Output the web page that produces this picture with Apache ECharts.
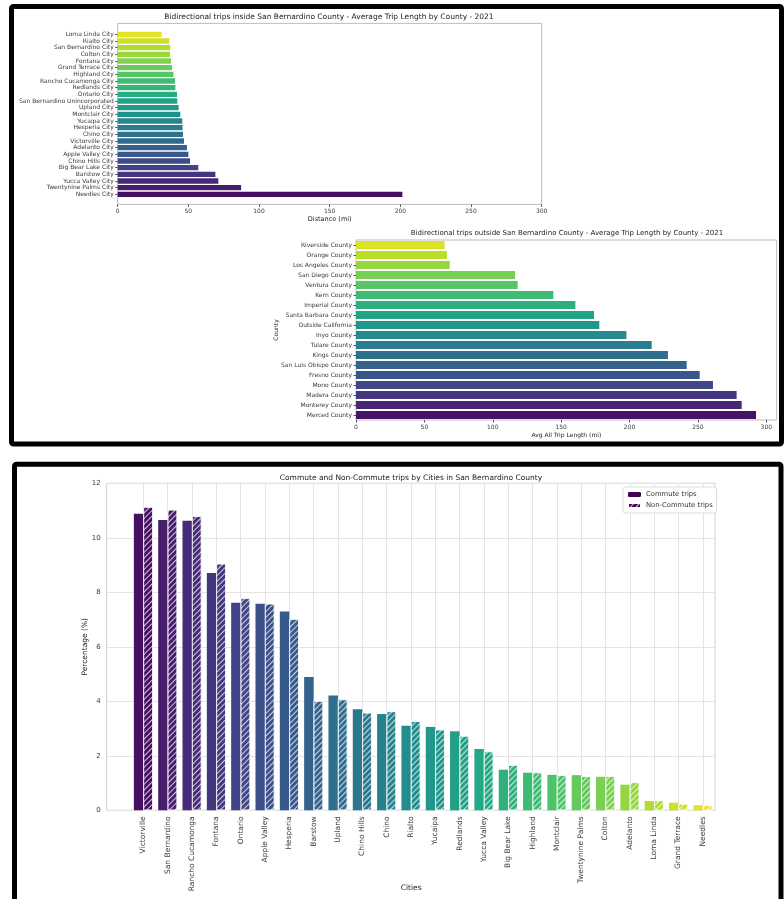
<!DOCTYPE html>
<html>
<head>
<meta charset="utf-8">
<script src="https://cdn.jsdelivr.net/npm/echarts@6/dist/echarts.min.js"></script>
<style>
  html, body { margin: 0; padding: 0; background: #fff; }
  #main { width: 784px; height: 899px; }
</style>
</head>
<body>
<div id="main"></div>
<script>
// 城市内部往返出行 - 平均出行距离 (mi)
var insideCities = ["Loma Linda City", "Rialto City", "San Bernardino City", "Colton City", "Fontana City",
  "Grand Terrace City", "Highland City", "Rancho Cucamonga City", "Redlands City", "Ontario City",
  "San Bernardino Unincorporated", "Upland City", "Montclair City", "Yucaipa City", "Hesperia City",
  "Chino City", "Victorville City", "Adelanto City", "Apple Valley City", "Chino Hills City",
  "Big Bear Lake City", "Barstow City", "Yucca Valley City", "Twentynine Palms City", "Needles City"];
var insideDistance = [31.1, 36.5, 37.2, 37.0, 37.7, 38.4, 39.4, 40.6, 40.8, 42.0, 42.2, 43.1, 44.3,
  45.7, 45.9, 46.2, 46.9, 49.0, 50.0, 51.2, 57.0, 69.1, 71.2, 87.3, 201.4];

// 县外往返出行 - 平均出行距离
var outsideCounties = ["Riverside County", "Orange County", "Los Angeles County", "San Diego County",
  "Ventura County", "Kern County", "Imperial County", "Santa Barbara County", "Outside California",
  "Inyo County", "Tulare County", "Kings County", "San Luis Obispo County", "Fresno County",
  "Mono County", "Madera County", "Monterey County", "Merced County"];
var outsideDistance = [64.8, 66.5, 68.5, 116.3, 118.2, 144.3, 160.4, 174.0, 177.9, 197.7, 216.2,
  228.1, 241.8, 251.3, 261.0, 278.3, 282.0, 292.5];

// 通勤 / 非通勤出行占比 (%)
var tripCities = ["Victorville", "San Bernardino", "Rancho Cucamonga", "Fontana", "Ontario",
  "Apple Valley", "Hesperia", "Barstow", "Upland", "Chino Hills", "Chino", "Rialto", "Yucaipa",
  "Redlands", "Yucca Valley", "Big Bear Lake", "Highland", "Montclair", "Twentynine Palms",
  "Colton", "Adelanto", "Loma Linda", "Grand Terrace", "Needles"];
var commutePct = [10.88, 10.65, 10.63, 8.71, 7.62, 7.58, 7.30, 4.89, 4.21, 3.71, 3.53, 3.10, 3.06,
  2.90, 2.25, 1.49, 1.38, 1.30, 1.29, 1.23, 0.94, 0.34, 0.28, 0.19];
var nonCommutePct = [11.13, 11.03, 10.79, 9.05, 7.78, 7.58, 7.02, 4.01, 4.07, 3.58, 3.63, 3.27, 2.96,
  2.73, 2.16, 1.66, 1.39, 1.29, 1.25, 1.25, 1.03, 0.36, 0.24, 0.19];

var tickDistance = [0, 50, 100, 150, 200, 250, 300];
var tickPct = [0, 2, 4, 6, 8, 10, 12];

// viridis 色带
var viridisStops = ["#440154", "#482475", "#414487", "#355f8d", "#2a788e", "#21918c",
  "#22a884", "#44bf70", "#7ad151", "#bddf26", "#fde725"];
function viridis(t) {
  var p = Math.max(0, Math.min(1, t)) * 10;
  var i = Math.min(9, Math.floor(p));
  var f = p - i;
  var a = viridisStops[i], b = viridisStops[i + 1];
  var out = "#";
  for (var k = 1; k < 7; k += 2) {
    var va = parseInt(a.substr(k, 2), 16), vb = parseInt(b.substr(k, 2), 16);
    var v = Math.round(va + (vb - va) * f);
    out += (v < 16 ? "0" : "") + v.toString(16);
  }
  return out;
}

var font = "DejaVu Sans";
var labelColor = "#3a3a3a";

var insideData = insideDistance.map(function (v, i) {
  return { value: v, itemStyle: { color: viridis(1 - (i + 1) / (insideDistance.length + 1)) } };
});
var outsideData = outsideDistance.map(function (v, i) {
  return { value: v, itemStyle: { color: viridis(1 - (i + 1) / (outsideDistance.length + 1)) } };
});
var commuteData = commutePct.map(function (v, i) {
  return { value: v, itemStyle: { color: viridis((i + 1) / (commutePct.length + 1)) } };
});
var nonCommuteData = nonCommutePct.map(function (v, i) {
  return { value: v, itemStyle: { color: viridis((i + 1) / (nonCommutePct.length + 1)) } };
});

var myChart = echarts.init(document.getElementById("main"));

var option = {
  backgroundColor: "#fff",
  animation: false,
  textStyle: { fontFamily: font },
  title: [{
    text: "Bidirectional trips inside San Bernardino County - Average Trip Length by County - 2021",
    left: 329, top: 13, textAlign: "center", padding: 0,
    textStyle: { fontSize: 7.5, fontWeight: "normal", color: "#222", fontFamily: font }
  }, {
    text: "Bidirectional trips outside San Bernardino County - Average Trip Length by County - 2021",
    left: 567, top: 230, textAlign: "center", padding: 0,
    textStyle: { fontSize: 7, fontWeight: "normal", color: "#222", fontFamily: font }
  }, {
    text: "Commute and Non-Commute trips by Cities in San Bernardino County",
    left: 411, top: 474, textAlign: "center", padding: 0,
    textStyle: { fontSize: 7.5, fontWeight: "normal", color: "#222", fontFamily: font }
  }],
  legend: {
    data: ["Commute trips", "Non-Commute trips"],
    orient: "vertical",
    left: 623, top: 487,
    itemWidth: 13, itemHeight: 5, itemGap: 4,
    padding: [4, 4, 4, 4],
    backgroundColor: "#fff",
    borderColor: "#ddd", borderWidth: 1, borderRadius: 2,
    textStyle: { fontSize: 6.8, color: "#333", fontFamily: font }
  },
  grid: [
    // 图1 外框 / 柱子区
    { left: 117.7, top: 23.4, width: 424, height: 181, show: true, borderColor: "#bdbdbd", borderWidth: 1, outerBoundsMode: "none" },
    { left: 117.7, top: 31, width: 424, height: 166.7, outerBoundsMode: "none" },
    // 图2
    { left: 356, top: 240, width: 420.7, height: 180, show: true, borderColor: "#bdbdbd", borderWidth: 1, outerBoundsMode: "none" },
    // 图3 外框 / 柱子区 / 竖网格线
    { left: 106.7, top: 483.3, width: 608.3, height: 327, show: true, borderColor: "#d0d0d0", borderWidth: 1, outerBoundsMode: "none" },
    { left: 131.2, top: 483.3, width: 583.8, height: 327, outerBoundsMode: "none" },
    { left: 143.36, top: 483.3, width: 559.7, height: 327, outerBoundsMode: "none" }
  ],
  xAxis: [{
    gridIndex: 0, type: "value", min: tickDistance[0], max: tickDistance[tickDistance.length - 1],
    interval: tickDistance[1] - tickDistance[0],
    name: "Distance (mi)", nameLocation: "middle", nameGap: 11, nameMoveOverlap: false,
    nameTextStyle: { fontSize: 6.5, color: "#222" },
    axisLine: { show: false },
    axisTick: { show: true, length: 2.5, lineStyle: { color: "#555" } },
    axisLabel: { fontSize: 6, color: labelColor, margin: 4 },
    splitLine: { show: false }
  }, {
    gridIndex: 1, type: "value", min: 0, max: 300, show: false
  }, {
    gridIndex: 2, type: "value", min: 0, max: 307.6, interval: 50,
    name: "Avg All Trip Length (mi)", nameLocation: "middle", nameGap: 12, nameMoveOverlap: false,
    nameTextStyle: { fontSize: 6, color: "#222" },
    axisLine: { show: false },
    axisTick: { show: true, length: 2.5, lineStyle: { color: "#555" } },
    axisLabel: { fontSize: 6, color: labelColor, margin: 4, showMaxLabel: false },
    splitLine: { show: false }
  }, {
    gridIndex: 3, type: "value", min: 0, max: 1, show: false
  }, {
    gridIndex: 4, type: "category", data: tripCities,
    name: "Cities", nameLocation: "middle", nameGap: 74, nameMoveOverlap: false,
    nameTextStyle: { fontSize: 7.5, color: "#222", padding: [0, 24, 0, 0] },
    axisLine: { show: false },
    axisTick: { show: false },
    axisLabel: { rotate: 90, fontSize: 7.5, color: labelColor, margin: 6, interval: 0 },
    splitLine: { show: false }
  }, {
    // 每个城市中心的竖向网格线
    gridIndex: 5, type: "value", min: 0, max: tripCities.length - 1, interval: 1,
    axisLine: { show: false }, axisTick: { show: false }, axisLabel: { show: false },
    splitLine: { show: true, lineStyle: { color: "#e4e4e4", width: 1 } }
  }],
  yAxis: [{
    gridIndex: 0, type: "value", show: false
  }, {
    gridIndex: 1, type: "category", data: insideCities, inverse: true,
    axisLine: { show: false },
    axisTick: { show: true, alignWithLabel: true, length: 2.5, lineStyle: { color: "#555" } },
    axisLabel: { fontSize: 6, color: labelColor, margin: 4, interval: 0 }
  }, {
    gridIndex: 2, type: "category", data: outsideCounties, inverse: true,
    name: "County", nameLocation: "middle", nameGap: 77, nameRotate: 90, nameMoveOverlap: false,
    nameTextStyle: { fontSize: 6, color: "#222" },
    axisLine: { show: false },
    axisTick: { show: true, alignWithLabel: true, length: 2.5, lineStyle: { color: "#555" } },
    axisLabel: { fontSize: 6, color: labelColor, margin: 4, interval: 0 }
  }, {
    gridIndex: 3, type: "value", min: tickPct[0], max: tickPct[tickPct.length - 1],
    interval: tickPct[1] - tickPct[0],
    name: "Percentage (%)", nameLocation: "middle", nameGap: 18, nameMoveOverlap: false,
    nameTextStyle: { fontSize: 7.5, color: "#222" },
    axisLine: { show: false },
    axisTick: { show: false },
    axisLabel: { fontSize: 7, color: labelColor, margin: 6 },
    splitLine: { show: true, lineStyle: { color: "#e4e4e4", width: 1 } }
  }, {
    gridIndex: 4, type: "value", min: 0, max: 12, show: false
  }, {
    gridIndex: 5, type: "value", min: 0, max: 12, show: false
  }],
  series: [{
    name: "Inside", type: "bar", xAxisIndex: 1, yAxisIndex: 1,
    data: insideData, barWidth: "80%"
  }, {
    name: "Outside", type: "bar", xAxisIndex: 2, yAxisIndex: 2,
    data: outsideData, barWidth: "80%"
  }, {
    name: "Commute trips", type: "bar", xAxisIndex: 4, yAxisIndex: 4,
    data: commuteData, barWidth: 9.5, barGap: "0%",
    itemStyle: { color: "#440154" }
  }, {
    name: "Non-Commute trips", type: "bar", xAxisIndex: 4, yAxisIndex: 4,
    data: nonCommuteData, barWidth: 9.5, barGap: "0%",
    itemStyle: {
      color: "#440154",
      borderColor: "#fff", borderWidth: 0.6,
      decal: {
        symbol: "rect", symbolSize: 1,
        color: "rgba(255,255,255,0.75)",
        dashArrayX: [1, 0], dashArrayY: [1, 2.5],
        rotation: -Math.PI / 4
      }
    }
  }],
  graphic: [{
    type: "rect", z: 100,
    shape: { x: 11.5, y: 6.5, width: 770, height: 437.5, r: 2 },
    style: { fill: "none", stroke: "#000", lineWidth: 5 }
  }, {
    type: "rect", z: 100,
    shape: { x: 14.5, y: 464.2, width: 766.5, height: 460, r: 2 },
    style: { fill: "none", stroke: "#000", lineWidth: 5 }
  }]
};

myChart.setOption(option);
window.addEventListener("resize", function () {
  myChart.resize();
});
</script>
</body>
</html>
